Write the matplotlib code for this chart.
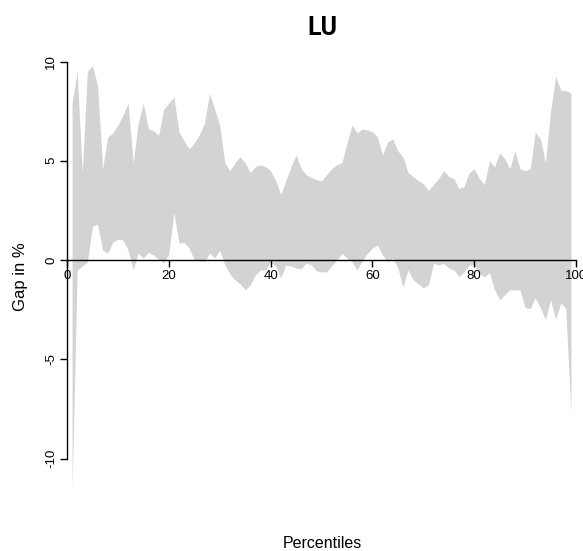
import matplotlib
matplotlib.use("Agg")
import matplotlib.pyplot as plt
import numpy as np

# Gender pay gap band by percentile, Luxembourg
country = "LU"
percentiles = np.arange(1, 100)

gap_upper = [
    7.9, 9.5, 4.4, 9.5, 9.8, 8.8, 4.6, 6.2, 6.4, 6.8,
    7.3, 7.9, 4.9, 6.9, 7.9, 6.6, 6.5, 6.3, 7.6, 7.9,
    8.2, 6.45, 6.0, 5.6, 5.9, 6.3, 6.9, 8.4, 7.6, 6.8,
    4.9, 4.5, 4.9, 5.2, 4.9, 4.4, 4.7, 4.8, 4.7, 4.5,
    4.0, 3.3, 4.0, 4.7, 5.3, 4.6, 4.3, 4.15, 4.05, 4.0,
    4.3, 4.6, 4.8, 4.9, 5.9, 6.8, 6.4, 6.6, 6.55, 6.45,
    6.2, 5.3, 5.95, 6.1, 5.5, 5.2, 4.4, 4.2, 4.0, 3.85,
    3.5, 3.8, 4.1, 4.5, 4.2, 4.1, 3.6, 3.7, 4.4, 4.6,
    4.1, 3.8, 5.0, 4.7, 5.4, 5.1, 4.6, 5.5, 4.6, 4.5,
    4.6, 6.45, 6.1, 4.9, 7.5, 9.25, 8.55, 8.55, 8.4,
]

gap_lower = [
    -11.6, -0.5, -0.3, -0.1, 1.7, 1.8, 0.5, 0.35, 0.9, 1.05,
    1.0, 0.5, -0.5, 0.35, 0.1, 0.4, 0.25, 0.05, -0.15, 0.3,
    2.4, 0.85, 0.9, 0.6, 0.0, -0.05, -0.08, 0.35, 0.1, 0.5,
    -0.25, -0.7, -1.0, -1.2, -1.5, -1.25, -0.75, -0.5, -0.5, -0.1,
    -0.3, -0.9, -0.25, -0.3, -0.4, -0.45, -0.15, -0.25, -0.55, -0.6,
    -0.6, -0.3, 0.0, 0.33, 0.1, -0.08, -0.5, -0.03, 0.33, 0.6,
    0.75, 0.25, -0.08, 0.1, -0.4, -1.35, -0.5, -1.0, -1.2, -1.4,
    -1.25, -0.17, -0.25, -0.17, -0.4, -0.5, -0.85, -0.6, -0.25, -0.25,
    -0.67, -0.85, -0.65, -1.5, -2.0, -1.75, -1.5, -1.5, -1.5, -2.4,
    -2.45, -1.9, -2.4, -3.0, -2.0, -3.0, -2.15, -2.45, -7.7,
]

x_ticks = [0, 20, 40, 60, 80, 100]
y_ticks = [-10, -5, 0, 5, 10]

plt.rcParams["font.family"] = ["Liberation Sans", "DejaVu Sans"]

fig = plt.figure(figsize=(5.83, 5.51), dpi=100)
ax = fig.add_axes([67 / 583, 51 / 551, 509 / 583, 450 / 551])

ax.fill_between(percentiles, gap_lower, gap_upper, color="#d3d3d3", linewidth=0)

ax.set_xlim(0, 100)
ax.set_ylim(-12.09, 10.58)

# R-style axes: x axis drawn through zero, y axis trimmed to tick range
for side in ["top", "right"]:
    ax.spines[side].set_visible(False)
ax.spines["bottom"].set_position(("data", 0))
ax.spines["bottom"].set_bounds(0, 100)
ax.spines["left"].set_bounds(-10, 10)
for side in ["bottom", "left"]:
    ax.spines[side].set_linewidth(1.0)
    ax.spines[side].set_zorder(3)

ax.set_xticks(x_ticks)
ax.set_yticks(y_ticks)
ax.set_xticklabels([str(t) for t in x_ticks])
ax.set_yticklabels([str(t) for t in y_ticks], rotation=90, va="center")
ax.tick_params(axis="both", direction="out", length=5, width=1.0,
               labelsize=9.5, pad=2)

fig.text(322 / 583, 1 - 28 / 551, country, ha="center", va="center",
         fontsize=18, fontweight="bold", family=["Roboto", "DejaVu Sans"])
fig.text(322 / 583, 1 - 543 / 551, "Percentiles", ha="center", va="center",
         fontsize=11.5)
fig.text(21 / 583, 1 - 277 / 551, "Gap in %", ha="center", va="center",
         rotation=90, fontsize=12)

fig.savefig("out.png", dpi=100)
